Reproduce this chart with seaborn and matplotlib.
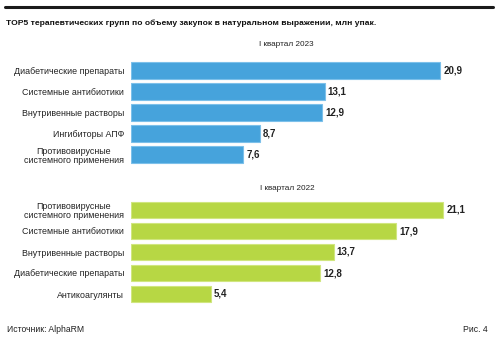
import matplotlib
matplotlib.use("Agg")
import matplotlib.pyplot as plt
import seaborn as sns
import pandas as pd
from matplotlib.lines import Line2D

sns.set_style("white")
plt.rcParams['font.family'] = ['Liberation Sans', 'DejaVu Sans']

title = "TOP5 терапевтических групп по объему закупок в натуральном выражении, млн упак."
sub_2023 = "I квартал 2023"
sub_2022 = "I квартал 2022"

cats_2023 = ["Диабетические препараты", "Системные антибиотики", "Внутривенные растворы",
             "Ингибиторы АПФ", "Противовирусные\nсистемного применения"]
vals_2023 = [20.9, 13.1, 12.9, 8.7, 7.6]

cats_2022 = ["Противовирусные\nсистемного применения", "Системные антибиотики",
             "Внутривенные растворы", "Диабетические препараты", "Антикоагулянты"]
vals_2022 = [21.1, 17.9, 13.7, 12.8, 5.4]

source = "Источник: AlphaRM"
fig_no = "Рис. 4"

W, H = 500, 341
fig = plt.figure(figsize=(W / 100, H / 100), dpi=100)
fig.patch.set_facecolor("white")

def px_axes(left, top, right, bottom):
    return fig.add_axes([left / W, 1 - bottom / H, (right - left) / W, (bottom - top) / H])

def draw(ax, cats, vals, color, edge):
    df = pd.DataFrame({"cat": cats, "val": vals})
    sns.barplot(data=df, x="val", y="cat", orient="h", color=color, width=0.8,
                edgecolor=edge, linewidth=0.8, saturation=1, ax=ax)
    ax.set_xlim(0, 25)
    ax.set_ylim(4.5, -0.5)
    ax.set_xlabel("")
    ax.set_ylabel("")
    ax.set_xticks([])
    for s in ax.spines.values():
        s.set_visible(False)
    ax.tick_params(axis="y", length=0, pad=5, labelsize=6.4, labelcolor="#222222")
    for lab in ax.get_yticklabels():
        lab.set_horizontalalignment("right")
        lab.set_multialignment("center")
        lab.set_linespacing(1.0)
    for i, v in enumerate(vals):
        ax.text(v + 0.2, i, f"{v:.1f}".replace(".", ","), va="center", ha="left",
                fontsize=7, fontweight="bold", color="#222222")

ax1 = px_axes(131, 59.5, 501, 165.5)
draw(ax1, cats_2023, vals_2023, "#46a3dc", "#7cc0ea")
ax2 = px_axes(131, 199.5, 501, 304.5)
draw(ax2, cats_2022, vals_2022, "#b7d744", "#d0e67f")

fig.add_artist(Line2D([5 / W, 493 / W], [1 - 7 / H, 1 - 7 / H], color="#1a1a1a", linewidth=2.2))
fig.text(6 / W, 1 - 23 / H, title, fontsize=6.1, fontweight="bold", va="center", ha="left", color="#111111")
fig.text(286 / W, 1 - 45 / H, sub_2023, fontsize=5.9, va="center", ha="center", color="#222222")
fig.text(287 / W, 1 - 189 / H, sub_2022, fontsize=5.9, va="center", ha="center", color="#222222")
fig.text(7 / W, 1 - 330 / H, source, fontsize=6.2, va="center", ha="left", color="#222222")
fig.text(488 / W, 1 - 330 / H, fig_no, fontsize=6.2, va="center", ha="right", color="#222222")

fig.savefig("out.png", dpi=100, facecolor="white")
